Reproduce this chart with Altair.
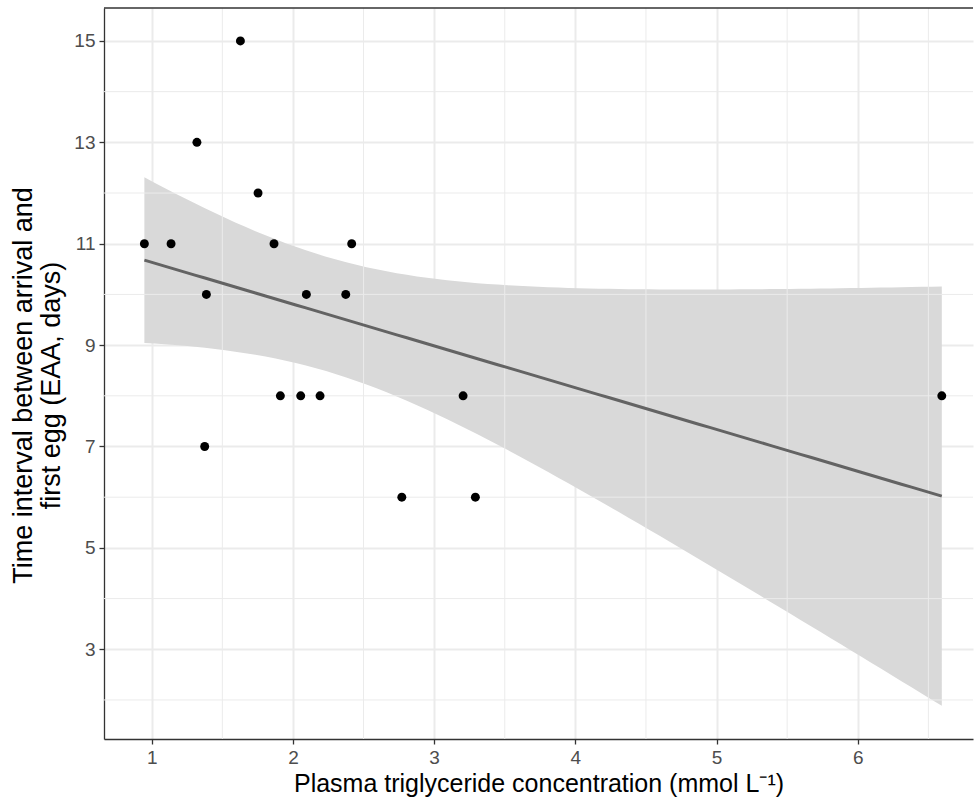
import altair as alt
import numpy as np
import pandas as pd

# Observations: plasma triglyceride (mmol/L) vs. days from arrival to first egg
triglyceride = [0.948, 1.137, 1.320, 1.628, 1.753, 1.866, 2.416, 1.387, 2.095,
                2.374, 1.911, 2.055, 2.192, 3.205, 1.375, 2.771, 3.292, 6.595]
eaa_days = [11, 11, 13, 15, 12, 11, 11, 10, 10,
            10, 8, 8, 8, 8, 7, 6, 6, 8]

x_major = [1, 2, 3, 4, 5, 6]
x_minor = [1.5, 2.5, 3.5, 4.5, 5.5, 6.5]
y_major = [3, 5, 7, 9, 11, 13, 15]
y_minor = [2, 4, 6, 8, 10, 12, 14]

# Ordinary least squares fit with a 95% confidence band (as geom_smooth(method="lm"))
xa = np.array(triglyceride)
ya = np.array(eaa_days, dtype=float)
n = len(xa)
slope, intercept = np.polyfit(xa, ya, 1)
resid = ya - (intercept + slope * xa)
s2 = (resid ** 2).sum() / (n - 2)
sxx = ((xa - xa.mean()) ** 2).sum()
t_crit = 2.1199  # t(0.975, df=16)
grid_x = np.linspace(xa.min(), xa.max(), 80)
fit = intercept + slope * grid_x
se = np.sqrt(s2 * (1.0 / n + (grid_x - xa.mean()) ** 2 / sxx))

points = pd.DataFrame({"tg": triglyceride, "eaa": eaa_days})
smooth = pd.DataFrame({"tg": grid_x, "fit": fit,
                       "lo": fit - t_crit * se, "hi": fit + t_crit * se})
minor_x_df = pd.DataFrame({"tg": x_minor})
minor_y_df = pd.DataFrame({"eaa": y_minor})

W, H = 869, 731
FONT = "Liberation Sans"
xscale = alt.Scale(domain=[0.662, 6.816], nice=False, zero=False)
yscale = alt.Scale(domain=[1.23, 15.65], nice=False, zero=False)

x_title = "Plasma triglyceride concentration (mmol L\u207B\u00B9)"
y_title = ["Time interval between arrival and", "first egg (EAA, days)"]

x_axis = alt.Axis(values=x_major, format="d", grid=True, gridColor="#EBEBEB", gridWidth=2,
                  domainColor="#333333", domainWidth=1.3, tickColor="#333333",
                  tickSize=5, tickWidth=1.3, labelColor="#4D4D4D", labelFontSize=19,
                  labelFont=FONT, labelPadding=4, titleFont=FONT, titleFontSize=25,
                  titleFontWeight="normal", titleColor="#000000", titlePadding=4)
y_axis = alt.Axis(values=y_major, format="d", grid=True, gridColor="#EBEBEB", gridWidth=2,
                  domainColor="#333333", domainWidth=1.3, tickColor="#333333",
                  tickSize=5, tickWidth=1.3, labelColor="#4D4D4D", labelFontSize=19,
                  labelFont=FONT, labelPadding=4, titleFont=FONT, titleFontSize=27,
                  titleFontWeight="normal", titleColor="#000000", titlePadding=8,
                  titleLineHeight=28, titleY=377)

# Confidence band carries the axis definitions for the whole layer
band = alt.Chart(smooth).mark_area(color="#D9D9D9", opacity=1).encode(
    x=alt.X("tg:Q", scale=xscale, axis=x_axis, title=x_title),
    y=alt.Y("lo:Q", scale=yscale, axis=y_axis, title=y_title),
    y2="hi:Q")

# Minor grid lines
minor_v = alt.Chart(minor_x_df).mark_rule(color="#EBEBEB", strokeWidth=1).encode(
    x=alt.X("tg:Q", scale=xscale, title=x_title),
    y=alt.value(0), y2=alt.value(H))
minor_h = alt.Chart(minor_y_df).mark_rule(color="#EBEBEB", strokeWidth=1).encode(
    y=alt.Y("eaa:Q", scale=yscale, title=y_title),
    x=alt.value(0), x2=alt.value(W))

line = alt.Chart(smooth).mark_line(color="#636363", strokeWidth=3).encode(
    x=alt.X("tg:Q", scale=xscale, title=x_title),
    y=alt.Y("fit:Q", scale=yscale, title=y_title))

dots = alt.Chart(points).mark_circle(color="#000000", size=80, opacity=1).encode(
    x=alt.X("tg:Q", scale=xscale, title=x_title),
    y=alt.Y("eaa:Q", scale=yscale, title=y_title))

top_border = alt.Chart(pd.DataFrame({"v": [0]})).mark_rule(
    color="#333333", strokeWidth=1.3).encode(
    y=alt.value(0), x=alt.value(0), x2=alt.value(W))

chart = alt.layer(band, minor_v, minor_h, line, dots, top_border).properties(
    width=W, height=H,
    autosize=alt.AutoSizeParams(type="none"),
    padding={"left": 104, "top": 8, "right": 1, "bottom": 70},
    background="white",
).configure_view(stroke=None)

chart.save("out.html", embed_options={"renderer": "svg", "actions": False})
